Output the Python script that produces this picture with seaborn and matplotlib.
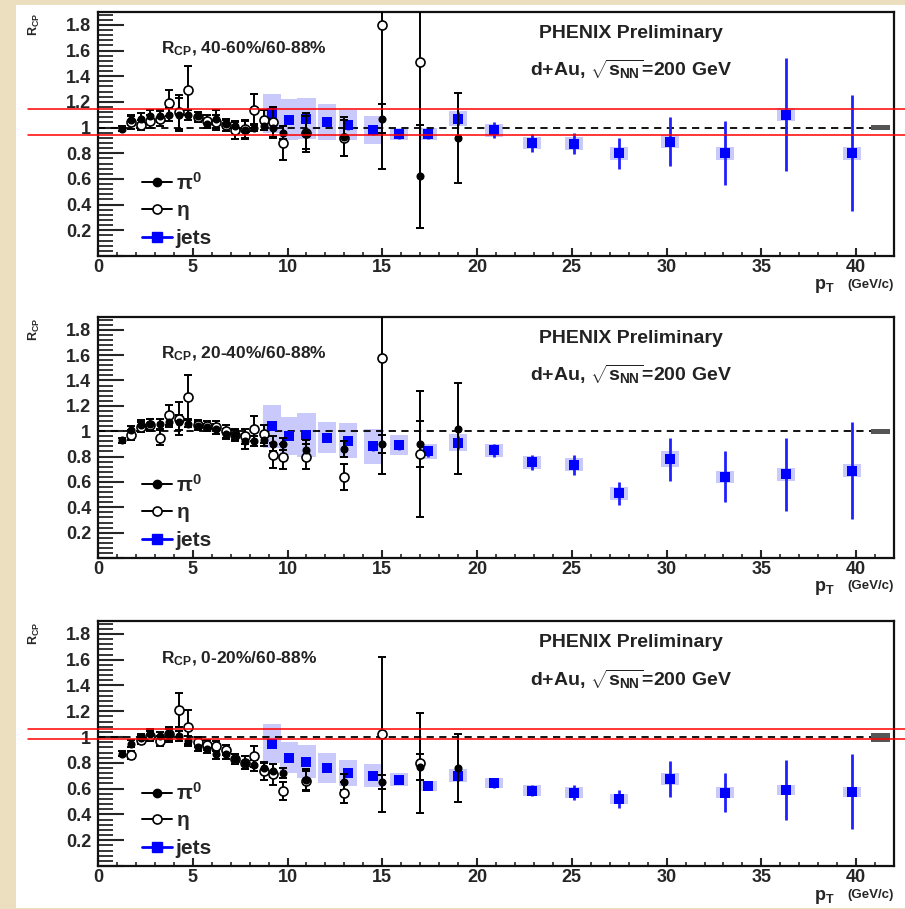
import numpy as np
import matplotlib
matplotlib.use("Agg")
import matplotlib.pyplot as plt
import seaborn as sns
from matplotlib.lines import Line2D
from matplotlib.patches import Rectangle
from matplotlib.ticker import MultipleLocator, FuncFormatter

# ---- data ----
panel_titles = ["40-60%/60-88%", "20-40%/60-88%", "0-20%/60-88%"]

pi0_x = [1.25, 1.75, 2.25, 2.75, 3.25, 3.75, 4.25, 4.75, 5.25, 5.75, 6.25, 6.75,
         7.25, 7.75, 8.25, 8.75, 9.25, 9.75, 11, 13, 15, 17, 19]
pi0_y = [
    [0.99, 1.06, 1.07, 1.09, 1.09, 1.10, 1.10, 1.10, 1.09, 1.03, 1.07, 1.03,
     1.01, 0.98, 1.00, 1.01, 1.00, 0.96, 0.96, 0.93, 1.07, 0.62, 0.92],
    [0.93, 1.01, 1.05, 1.06, 1.06, 1.07, 1.07, 1.06, 1.04, 1.03, 1.02, 0.98,
     0.97, 0.92, 0.92, 0.93, 0.90, 0.90, 0.85, 0.86, 0.90, 0.90, 1.02],
    [0.87, 0.95, 0.99, 1.02, 1.01, 1.02, 1.01, 0.97, 0.92, 0.91, 0.87, 0.87,
     0.83, 0.80, 0.78, 0.76, 0.74, 0.72, 0.67, 0.65, 0.65, 0.77, 0.76],
]
pi0_err = [
    [0.02, 0.04, 0.04, 0.05, 0.05, 0.05, 0.13, 0.04, 0.03, 0.03, 0.07, 0.03,
     0.03, 0.07, 0.03, 0.03, 0.07, 0.05, 0.13, 0.15, 0.11, 0.40, 0.35],
    [0.02, 0.03, 0.04, 0.04, 0.04, 0.04, 0.06, 0.03, 0.03, 0.03, 0.04, 0.04,
     0.04, 0.06, 0.04, 0.05, 0.06, 0.05, 0.08, 0.06, 0.07, 0.18, 0.36],
    [0.02, 0.03, 0.03, 0.04, 0.03, 0.04, 0.04, 0.04, 0.03, 0.03, 0.04, 0.04,
     0.04, 0.05, 0.04, 0.04, 0.05, 0.04, 0.08, 0.06, 0.055, 0.10, 0.26],
]

eta_x = [1.75, 2.25, 2.75, 3.25, 3.75, 4.25, 4.75, 5.25, 5.75, 6.25, 6.75, 7.25,
         7.75, 8.25, 8.75, 9.25, 9.75, 11, 13, 15, 17]
eta_y = [
    [1.04, 1.02, 1.05, 1.07, 1.19, 1.12, 1.29, 1.08, 1.05, 1.04, 1.02, 0.98,
     0.99, 1.14, 1.06, 1.04, 0.88, 0.96, 0.92, 1.80, 1.51],
    [0.97, 1.03, 1.05, 0.95, 1.13, 1.10, 1.27, 1.05, 1.04, 1.03, 1.00, 0.97,
     0.96, 1.02, 0.98, 0.81, 0.80, 0.80, 0.64, 1.58, 0.82],
    [0.86, 0.98, 1.01, 0.97, 1.02, 1.21, 1.08, 0.96, 0.94, 0.93, 0.90, 0.83,
     0.80, 0.85, 0.74, 0.71, 0.58, 0.66, 0.57, 1.02, 0.80],
]
eta_err = [
    [0.05, 0.04, 0.05, 0.06, 0.10, 0.13, 0.19, 0.04, 0.05, 0.06, 0.05, 0.07,
     0.07, 0.12, 0.08, 0.12, 0.13, 0.15, 0.14, 1.12, 1.29],
    [0.04, 0.04, 0.05, 0.06, 0.08, 0.13, 0.17, 0.04, 0.04, 0.05, 0.05, 0.05,
     0.06, 0.10, 0.07, 0.10, 0.10, 0.10, 0.10, 0.92, 0.50],
    [0.03, 0.03, 0.04, 0.04, 0.06, 0.13, 0.13, 0.04, 0.04, 0.04, 0.04, 0.04,
     0.05, 0.08, 0.07, 0.08, 0.07, 0.08, 0.08, 0.60, 0.39],
]

jet_x = [9.2, 10.1, 11.0, 12.1, 13.2, 14.5, 15.9, 17.4, 19.0, 20.9, 22.9, 25.1,
         27.5, 30.2, 33.1, 36.3, 39.8]
jet_y = [
    [1.11, 1.06, 1.07, 1.04, 1.02, 0.98, 0.95, 0.95, 1.07, 0.98, 0.88, 0.875,
     0.80, 0.89, 0.80, 1.10, 0.80],
    [1.04, 0.96, 0.97, 0.95, 0.925, 0.88, 0.89, 0.84, 0.91, 0.85, 0.755, 0.735,
     0.51, 0.78, 0.64, 0.66, 0.69],
    [0.95, 0.84, 0.81, 0.76, 0.72, 0.70, 0.67, 0.62, 0.70, 0.645, 0.585, 0.57,
     0.52, 0.675, 0.57, 0.59, 0.575],
]
jet_err = [
    [0.03, 0.03, 0.03, 0.03, 0.04, 0.04, 0.04, 0.04, 0.05, 0.06, 0.07, 0.08,
     0.12, 0.19, 0.25, 0.44, 0.45],
    [0.03, 0.03, 0.03, 0.03, 0.03, 0.04, 0.04, 0.04, 0.05, 0.05, 0.06, 0.08,
     0.09, 0.17, 0.20, 0.29, 0.38],
    [0.03, 0.03, 0.03, 0.03, 0.03, 0.03, 0.03, 0.03, 0.04, 0.04, 0.045, 0.06,
     0.07, 0.14, 0.155, 0.235, 0.29],
]
jet_sys = [
    [0.15, 0.16, 0.16, 0.14, 0.12, 0.11, 0.05, 0.05, 0.06, 0.05, 0.05, 0.05,
     0.05, 0.05, 0.05, 0.05, 0.05],
    [0.17, 0.15, 0.17, 0.12, 0.14, 0.14, 0.08, 0.06, 0.07, 0.05, 0.05, 0.05,
     0.05, 0.06, 0.05, 0.05, 0.05],
    [0.15, 0.12, 0.13, 0.12, 0.10, 0.09, 0.05, 0.04, 0.05, 0.04, 0.04, 0.04,
     0.04, 0.05, 0.04, 0.04, 0.04],
]

# global normalisation uncertainty (grey box at right)
norm_x = 41.3
norm_unc = [0.02, 0.02, 0.035]

# red guide lines drawn over panels 1 and 3
red_lines = [[1.148, 0.945], [], [1.062, 0.984]]

# ---- style ----
sns.set_theme(style="ticks")
plt.rcParams["font.family"] = ["Liberation Sans", "DejaVu Sans"]
plt.rcParams["font.weight"] = "bold"
plt.rcParams["mathtext.fontset"] = "custom"
plt.rcParams["mathtext.rm"] = "Liberation Sans:bold"
plt.rcParams["mathtext.bf"] = "Liberation Sans:bold"
plt.rcParams["mathtext.it"] = "Liberation Sans:bold"

BLUE = "#0000ff"
BOX = "#c9c9fb"

fig = plt.figure(figsize=(9.05, 9.09), dpi=100)
fig.patch.set_facecolor("#ebdfc0")
fig.add_artist(Rectangle((16 / 905, 1 / 909), 1.0, 903 / 909, transform=fig.transFigure,
                         facecolor="white", edgecolor="none", zorder=-10))

axes_pos = [
    [0.1083, 0.7184, 0.8796, 0.2684],
    [0.1083, 0.3861, 0.8796, 0.2651],
    [0.1083, 0.0473, 0.8796, 0.2695],
]

for i in range(3):
    ax = fig.add_axes(axes_pos[i])
    ax.set_facecolor("white")

    # jet systematic boxes
    jy = np.array(jet_y[i])
    js = np.array(jet_sys[i])
    ax.bar(jet_x, 2 * js, bottom=jy - js, width=0.95, color=BOX, edgecolor="none", zorder=1)
    # normalisation box
    ax.bar([norm_x], [2 * norm_unc[i]], bottom=[1 - norm_unc[i]], width=1.0,
           color="#555555", edgecolor="none", zorder=2)

    ax.hlines(1.0, 0, 40.8, colors="black", linestyles=(0, (4, 3)), lw=1.3, zorder=2)

    # jets
    ax.errorbar(jet_x, jet_y[i], yerr=jet_err[i], fmt="none", ecolor="#2020ff",
                elinewidth=2.0, capsize=0, zorder=3)
    sns.scatterplot(x=jet_x, y=jet_y[i], ax=ax, marker="s", s=52, color=BLUE,
                    edgecolor=BLUE, linewidth=0, zorder=4)

    # eta (open) and pi0 (filled)
    ax.errorbar(eta_x, eta_y[i], yerr=eta_err[i], fmt="none", ecolor="black",
                elinewidth=1.4, capsize=2.6, capthick=1.4, zorder=5)
    ax.errorbar(pi0_x, pi0_y[i], yerr=pi0_err[i], fmt="none", ecolor="black",
                elinewidth=1.4, capsize=2.6, capthick=1.4, zorder=5)
    sns.scatterplot(x=eta_x, y=eta_y[i], ax=ax, marker="o", s=42, color="white",
                    edgecolor="black", linewidth=1.2, zorder=6)
    sns.scatterplot(x=pi0_x, y=pi0_y[i], ax=ax, marker="o", s=34, color="black",
                    edgecolor="black", linewidth=0, zorder=7)

    ax.set_xlim(0, 42)
    ax.set_ylim(0, 1.9)
    ax.set_xlabel("")
    ax.set_ylabel("")

    for sp in ax.spines.values():
        sp.set_linewidth(1.6)
        sp.set_color("#111111")
        sp.set_visible(True)

    ax.xaxis.set_major_locator(MultipleLocator(5))
    ax.xaxis.set_minor_locator(MultipleLocator(1))
    ax.yaxis.set_major_locator(MultipleLocator(0.2))
    ax.yaxis.set_minor_locator(MultipleLocator(0.04))
    ax.yaxis.set_major_formatter(FuncFormatter(lambda v, p: "" if abs(v) < 1e-6 else f"{v:g}"))
    ax.tick_params(axis="y", which="major", direction="in", length=19, width=1.5,
                   labelsize=13, pad=5, right=False)
    ax.tick_params(axis="y", which="minor", direction="in", length=11, width=1.3, right=False)
    ax.tick_params(axis="x", which="major", direction="in", length=6, width=1.5,
                   labelsize=13, pad=2, top=False)
    ax.tick_params(axis="x", which="minor", direction="in", length=3, width=1.2, top=False)
    for lab in ax.get_xticklabels() + ax.get_yticklabels():
        lab.set_fontweight("bold")

    # texts
    ax.text(3.3, 1.61, r"R$_{\mathrm{CP}}$, " + panel_titles[i], fontsize=12.5,
            fontweight="bold", ha="left", va="center", color="#222222")
    ax.text(28.1, 1.73, "PHENIX Preliminary", fontsize=14, fontweight="bold",
            ha="center", va="center", color="#222222")
    ax.text(28.1, 1.45, r"d+Au, $\sqrt{\mathrm{s}_{\mathrm{NN}}}$=200 GeV", fontsize=14,
            fontweight="bold", ha="center", va="center", color="#222222")
    ax.text(-0.08, 0.995, r"R$_{\mathrm{CP}}$", transform=ax.transAxes, rotation=90,
            fontsize=9, ha="center", va="top")
    ax.text(1.0, -0.118, "(GeV/c)", transform=ax.transAxes, fontsize=9.5,
            ha="right", va="center")
    ax.text(0.925, -0.125, r"p$_{\mathrm{T}}$", transform=ax.transAxes, fontsize=13,
            ha="right", va="center")

    # legend
    handles = [
        Line2D([], [], color="black", lw=1.4, marker="o", markersize=6),
        Line2D([], [], color="black", lw=1.4, marker="o", markersize=6.5,
               markerfacecolor="white", markeredgewidth=1.2),
        Line2D([], [], color=BLUE, lw=2, marker="s", markersize=7.5),
    ]
    leg = ax.legend(handles, [r"$\pi^0$", r"$\eta$", "jets"], loc="lower left",
                    bbox_to_anchor=(0.04, -0.02), frameon=False, fontsize=15,
                    handlelength=1.4, handletextpad=0.2, labelspacing=0.35,
                    borderaxespad=0.2)

    # red guide lines
    for yv in red_lines[i]:
        ax.axhline(yv, xmin=-0.088, xmax=1.02, color="red", lw=1.1, clip_on=False, zorder=8)

fig.savefig("out.png", dpi=100, facecolor=fig.get_facecolor())
